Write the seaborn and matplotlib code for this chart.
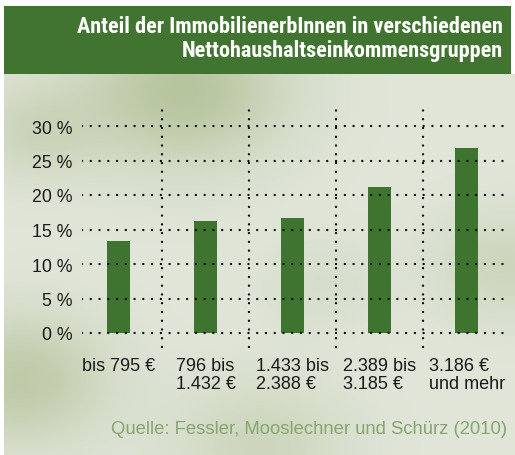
import numpy as np
import pandas as pd
import matplotlib
matplotlib.use("Agg")
import matplotlib.pyplot as plt
import seaborn as sns
from matplotlib import font_manager

# ---- data ----
categories = ["bis 795 €", "796 bis\n1.432 €", "1.433 bis\n2.388 €", "2.389 bis\n3.185 €", "3.186 €\nund mehr"]
values = [13.3, 16.2, 16.7, 21.2, 26.8]
yticks = [0, 5, 10, 15, 20, 25, 30]
ytick_labels = ["0 %", "5 %", "10 %", "15 %", "20 %", "25 %", "30 %"]
title_lines = "Anteil der ImmobilienerbInnen in verschiedenen\nNettohaushaltseinkommensgruppen"
source = "Quelle: Fessler, Mooslechner und Schürz (2010)"

sns.set_theme(style="white")
plt.rcParams["font.family"] = ["Liberation Sans", "DejaVu Sans"]

names = {f.name for f in font_manager.fontManager.ttflist}
cond = [n for n in ["Liberation Sans Narrow", "Roboto Condensed", "DejaVu Sans Condensed", "Open Sans Condensed"] if n in names]
title_family = cond + ["Roboto", "DejaVu Sans"]

W, H = 515, 456
fig = plt.figure(figsize=(W / 100, H / 100), dpi=100)
fig.patch.set_facecolor("white")

# ---- background gradient (decorative) ----
bg = fig.add_axes([4 / W, 0, 1 - 4 / W, (H - 75) / H], zorder=0)
gy, gx = np.mgrid[0:200, 0:270]
gx = gx / 270.0
gy = gy / 200.0
light = np.array([0.88, 0.90, 0.85])
dark = np.array([0.69, 0.75, 0.58])
blobs = [(0.35, 0.04, 0.14, 0.85), (0.03, 0.8, 0.12, 0.7), (0.5, 0.97, 0.12, 0.4),
         (0.98, 0.5, 0.1, 0.4), (0.06, 0.15, 0.09, 0.4), (0.62, 0.55, 0.08, 0.2)]
w = np.zeros_like(gx)
for cx, cy, s, a in blobs:
    w += a * np.exp(-((gx - cx) ** 2 + (gy - cy) ** 2) / (2 * s ** 2))
w = np.clip(w, 0, 1)[..., None]
img = light * (1 - w) + dark * w
bg.imshow(img, aspect="auto", extent=[0, 1, 0, 1], interpolation="bilinear")
bg.set_axis_off()

# ---- header ----
hdr = fig.add_axes([4 / W, (H - 75) / H, (511 - 4) / W, (75 - 7) / H], zorder=1)
hdr.set_facecolor("#427431")
hdr.set_xticks([]); hdr.set_yticks([])
for s in hdr.spines.values():
    s.set_visible(False)
fig.text(503 / W, 1 - 39 / H, title_lines, ha="right", va="center", color="white",
         fontsize=16, fontweight="bold", linespacing=1.15,
         family=title_family, fontstretch="condensed", zorder=3)

# ---- main chart ----
ax = fig.add_axes([82 / W, (H - 351.25) / H, 423 / W, 244.95 / H], zorder=2)
ax.patch.set_alpha(0)
df = pd.DataFrame({"cat": categories, "val": values})
sns.barplot(data=df, x="cat", y="val", color="#3f7430", saturation=1, width=0.264,
            linewidth=0, ax=ax, zorder=2)

ax.set_xlim(-0.42, 4.44)
ax.set_ylim(-2.5, 33)
dot = dict(color="black", linewidth=1.7, linestyle=(0, (0.01, 3.7)), dash_capstyle="round")
for yv in yticks:
    ax.axhline(yv, zorder=3, **dot)
for xv in [0.5, 1.5, 2.5, 3.5]:
    ax.plot([xv, xv], [-2.0, 32.6], zorder=3, **dot)

ax.set_yticks(yticks)
ax.set_yticklabels(ytick_labels, fontsize=12.8, color="#1a1a1a")
ax.tick_params(axis="y", length=0, pad=7)
ax.tick_params(axis="x", length=0, pad=5)
ax.set_xticks(range(len(categories)))
ax.set_xticklabels(categories, fontsize=13, color="#1a1a1a", multialignment="left", linespacing=1.05)
ax.set_xlabel("")
ax.set_ylabel("")
for s in ax.spines.values():
    s.set_visible(False)

fig.text(507 / W, (H - 430) / H, source, ha="right", va="center", color="#86a672", fontsize=13.3)

fig.savefig("out.png", dpi=100)
